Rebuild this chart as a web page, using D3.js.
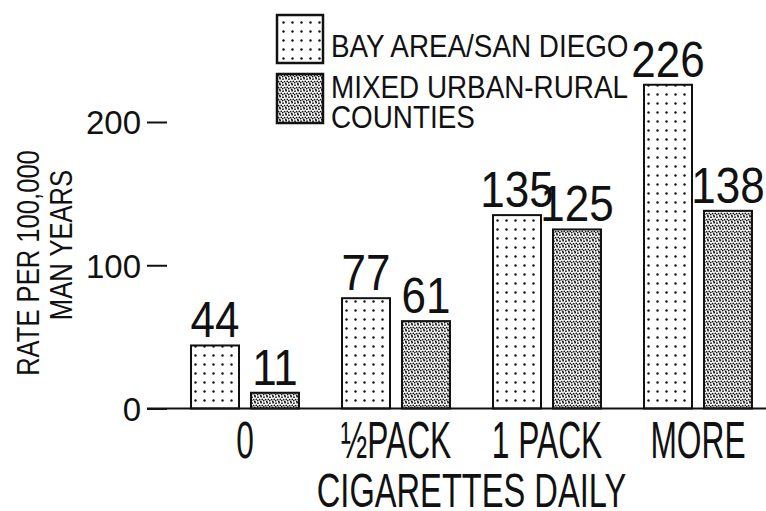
<!DOCTYPE html>
<meta charset="utf-8">
<style>
    body {
        margin: 0;
        background: #fff;
    }
    svg text {
        fill: #111;
    }
</style>

<body>
    <script src="https://cdn.jsdelivr.net/npm/d3@7"></script>
    <script>
        // values
        var categories = ["0", "½PACK", "1 PACK", "MORE"];
        var seriesKeys = ["bay", "mixed"];
        var bayArea = [44, 77, 135, 226];
        var mixedCounties = [11, 61, 125, 138];
        var legendLabels = [["BAY AREA/SAN DIEGO"], ["MIXED URBAN-RURAL", "COUNTIES"]];
        var yTicks = [0, 100, 200];
        var yTitle = ["RATE PER 100,000", "MAN YEARS"];
        var xTitle = "CIGARETTES DAILY";

        var width = 766,
            height = 511;

        // no narrow face installed, so condense with a horizontal scale
        var font = "'Liberation Sans', Arial, sans-serif";

        var svg = d3.select("body").append("svg")
            .attr("width", width)
            .attr("height", height);

        var defs = svg.append("defs");

        // sparse dot grid
        var dots = defs.append("pattern")
            .attr("id", "dots")
            .attr("patternUnits", "userSpaceOnUse")
            .attr("width", 9)
            .attr("height", 9);
        dots.append("rect").attr("width", 9).attr("height", 9).attr("fill", "#fff");
        dots.append("circle").attr("cx", 4.5).attr("cy", 4.5).attr("r", 1.2).attr("fill", "#111");

        // dense stipple
        var stip = defs.append("pattern")
            .attr("id", "stipple")
            .attr("patternUnits", "userSpaceOnUse")
            .attr("width", 6)
            .attr("height", 6);
        stip.append("rect").attr("width", 6).attr("height", 6).attr("fill", "#fff");
        [[1, 1.2], [4.1, 0.7], [2.6, 3.6], [5.3, 3.3], [0.7, 4.6], [3.8, 5.4]].forEach(function (p) {
            stip.append("circle").attr("cx", p[0]).attr("cy", p[1]).attr("r", 0.9).attr("fill", "#111");
        });

        var fills = { bay: "url(#dots)", mixed: "url(#stipple)" };

        var data = categories.map(function (c, i) {
            return { cat: c, bay: bayArea[i], mixed: mixedCounties[i] };
        });

        var x0 = d3.scaleBand()
            .domain(categories)
            .range([169.5, 773.5])
            .paddingInner(0.285)
            .paddingOuter(0.1425);

        var x1 = d3.scaleBand()
            .domain(seriesKeys)
            .range([0, x0.bandwidth()])
            .paddingInner(0.2);

        var y = d3.scaleLinear()
            .domain([0, 200])
            .range([408.5, 122]);

        // bars
        var groups = svg.append("g").selectAll("g")
            .data(data)
            .join("g")
            .attr("transform", function (d) { return "translate(" + x0(d.cat) + ",0)"; });

        var bars = groups.selectAll("g")
            .data(function (d) {
                return seriesKeys.map(function (k) { return { key: k, value: d[k] }; });
            })
            .join("g");

        bars.append("rect")
            .attr("x", function (d) { return x1(d.key); })
            .attr("y", function (d) { return y(d.value); })
            .attr("width", x1.bandwidth())
            .attr("height", function (d) { return y(0) - y(d.value); })
            .attr("fill", function (d) { return fills[d.key]; })
            .attr("stroke", "#111")
            .attr("stroke-width", 2);

        bars.append("text")
            .attr("transform", function (d) {
                return "translate(" + (x1(d.key) + x1.bandwidth() / 2) + "," + (y(d.value) - 8) + ") scale(0.88,1)";
            })
            .attr("text-anchor", "middle")
            .style("font-family", font)
            .style("font-size", "50px")
            .text(function (d) { return d.value; });

        // baseline
        svg.append("line")
            .attr("x1", 147)
            .attr("x2", width)
            .attr("y1", y(0))
            .attr("y2", y(0))
            .attr("stroke", "#111")
            .attr("stroke-width", 2);

        // y axis: ticks only, no spine
        var yAxis = svg.append("g")
            .attr("transform", "translate(167,0)")
            .call(d3.axisLeft(y).tickValues(yTicks).tickSize(20).tickPadding(6).tickFormat(d3.format("d")));
        yAxis.select(".domain").remove();
        yAxis.selectAll(".tick line").attr("stroke", "#111").attr("stroke-width", 2);
        yAxis.selectAll(".tick text")
            .attr("dy", "0.36em")
            .style("font-family", font)
            .style("font-size", "33px")
            .attr("fill", "#111");

        // y title, two rotated lines
        var yTitlePos = [[39, 263], [72, 245]];
        svg.append("g").selectAll("text")
            .data(yTitle)
            .join("text")
            .attr("transform", function (d, i) {
                return "translate(" + yTitlePos[i][0] + "," + yTitlePos[i][1] + ") rotate(-90) scale(0.8,1)";
            })
            .attr("text-anchor", "middle")
            .style("font-family", font)
            .style("font-size", "32px")
            .text(function (d) { return d; });

        // category labels (lettering is very condensed)
        svg.append("g").selectAll("text")
            .data(categories)
            .join("text")
            .attr("transform", function (d) {
                return "translate(" + (x0(d) + x0.bandwidth() / 2) + ",458) scale(0.61,1)";
            })
            .attr("text-anchor", "middle")
            .style("font-family", font)
            .style("font-size", "52px")
            .text(function (d) { return d; });

        svg.append("text")
            .attr("transform", "translate(" + (x0.range()[0] + x0.range()[1]) / 2 + ",507) scale(0.68,1)")
            .attr("text-anchor", "middle")
            .style("font-family", font)
            .style("font-size", "48px")
            .text(xTitle);

        // legend
        var legendBox = [[277, 15, 46, 48], [277, 74, 46, 49]];
        var legendText = [[57], [98, 128]];
        var legend = svg.append("g").selectAll("g")
            .data(seriesKeys)
            .join("g");

        legend.append("rect")
            .attr("x", function (d, i) { return legendBox[i][0]; })
            .attr("y", function (d, i) { return legendBox[i][1]; })
            .attr("width", function (d, i) { return legendBox[i][2]; })
            .attr("height", function (d, i) { return legendBox[i][3]; })
            .attr("fill", function (d) { return fills[d]; })
            .attr("stroke", "#111")
            .attr("stroke-width", 2.5);

        legend.each(function (d, i) {
            d3.select(this).selectAll("text")
                .data(legendLabels[i])
                .join("text")
                .attr("transform", function (t, j) {
                    return "translate(331," + legendText[i][j] + ") scale(0.87,1)";
                })
                .style("font-family", font)
                .style("font-size", "32px")
                .text(function (t) { return t; });
        });
    </script>
</body>
